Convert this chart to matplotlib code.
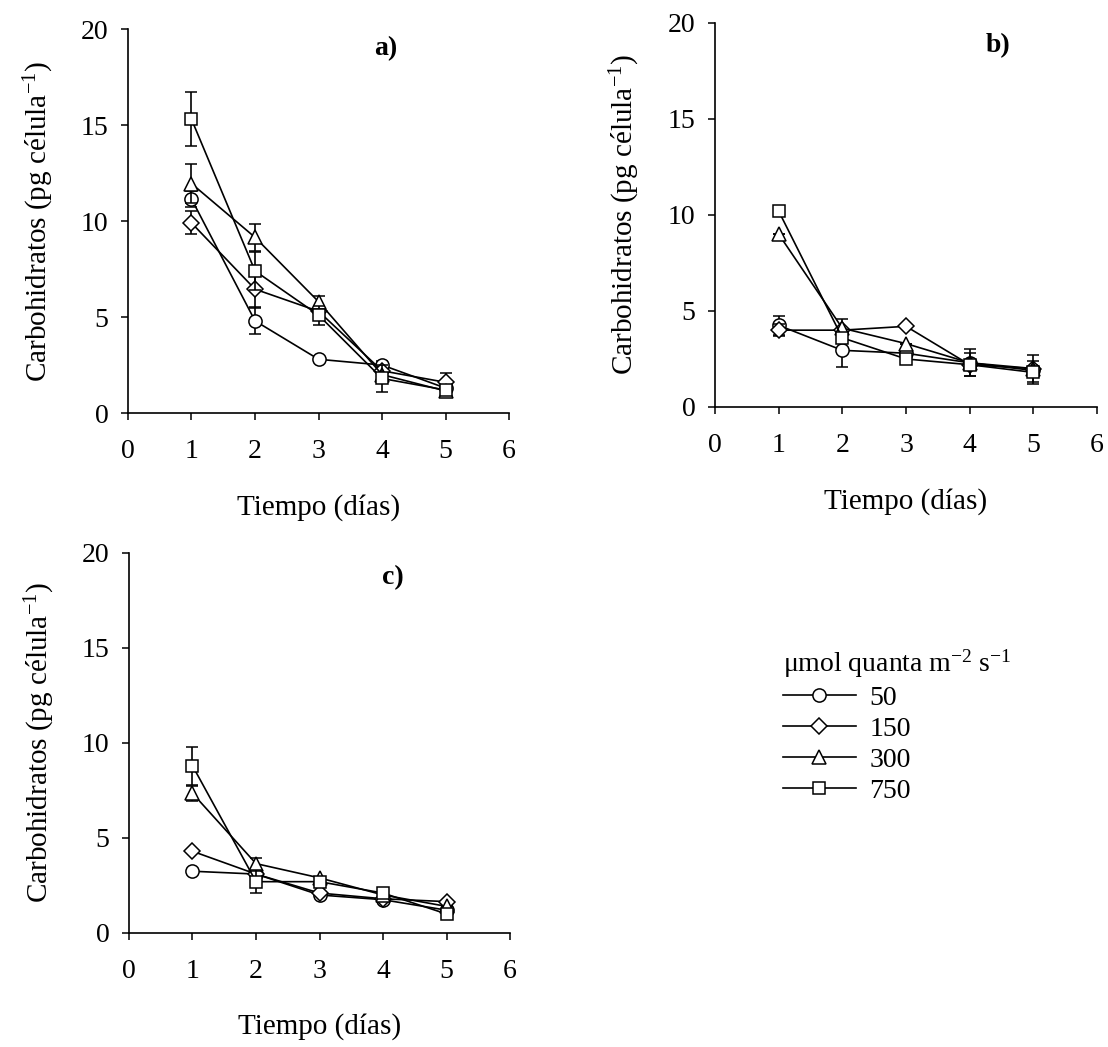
import matplotlib
matplotlib.use("Agg")
import matplotlib.pyplot as plt

plt.rcParams['font.family'] = ['Liberation Serif', 'DejaVu Serif']
plt.rcParams['mathtext.fontset'] = 'custom'
plt.rcParams['mathtext.rm'] = 'Liberation Serif'
plt.rcParams['mathtext.it'] = 'Liberation Serif:italic'
plt.rcParams['mathtext.bf'] = 'Liberation Serif:bold'

dias = [1, 2, 3, 4, 5]
niveles = ['50', '150', '300', '750']
marcas = ['o', 'D', '^', 's']
tamanos = [9.5, 8, 9.5, 9]

# panel a)
a_50 = [11.15, 4.8, 2.8, 2.5, 1.3]
a_150 = [9.9, 6.45, 5.3, 2.2, 1.6]
a_300 = [11.95, 9.15, 5.8, 2.0, 1.15]
a_750 = [15.3, 7.4, 5.1, 1.8, 1.2]
a_err_50 = [0.4, 0.7, 0, 0.2, 0]
a_err_150 = [0.6, 1.0, 0, 0, 0.5]
a_err_300 = [1.0, 0.7, 0.3, 0, 0.2]
a_err_750 = [1.4, 1.0, 0.5, 0.7, 0]

# panel b)
b_50 = [4.25, 2.95, 2.8, 2.3, 1.9]
b_150 = [4.0, 4.0, 4.2, 2.2, 2.0]
b_300 = [9.0, 4.1, 3.3, 2.3, 2.0]
b_750 = [10.2, 3.6, 2.5, 2.2, 1.8]
b_err_50 = [0.5, 0.85, 0, 0, 0]
b_err_150 = [0.3, 0, 0, 0, 0]
b_err_300 = [0, 0.5, 0, 0.7, 0.7]
b_err_750 = [0, 0, 0, 0.6, 0.6]

# panel c)
c_50 = [3.25, 3.1, 2.0, 1.75, 1.2]
c_150 = [4.3, 3.1, 2.1, 1.8, 1.65]
c_300 = [7.35, 3.65, 2.9, 2.0, 1.4]
c_750 = [8.8, 2.7, 2.7, 2.1, 1.0]
c_err_50 = [0, 0, 0, 0, 0]
c_err_150 = [0, 0, 0, 0, 0]
c_err_300 = [0.4, 0.3, 0, 0, 0]
c_err_750 = [1.0, 0.6, 0, 0.2, 0]

paneles = [
    ('a)', [a_50, a_150, a_300, a_750], [a_err_50, a_err_150, a_err_300, a_err_750],
     [0.1155, 0.6055, 0.344, 0.3668], (4.05, 19.0)),
    ('b)', [b_50, b_150, b_300, b_750], [b_err_50, b_err_150, b_err_300, b_err_750],
     [0.6453, 0.6113, 0.3448, 0.3668], (4.45, 18.8)),
    ('c)', [c_50, c_150, c_300, c_750], [c_err_50, c_err_150, c_err_300, c_err_750],
     [0.1164, 0.1089, 0.344, 0.363], (4.15, 18.7)),
]

fig = plt.figure(figsize=(11.08, 10.47), dpi=100)

handles = []
for etiqueta, series, errores, pos, txt in paneles:
    ax = fig.add_axes(pos)
    for i in range(4):
        eb = ax.errorbar(dias, series[i], yerr=errores[i], color='black', lw=1.2,
                         marker=marcas[i], ms=tamanos[i], mfc='white', mec='black',
                         mew=1.1, capsize=4, elinewidth=1.2, capthick=1.2,
                         clip_on=False, zorder=3 + i)
        if etiqueta == 'a)':
            handles.append(eb[0])
    ax.set_xlim(0, 6)
    ax.set_ylim(0, 20)
    ax.set_xticks([0, 1, 2, 3, 4, 5, 6])
    ax.set_yticks([0, 5, 10, 15, 20])
    ax.spines['top'].set_visible(False)
    ax.spines['right'].set_visible(False)
    ax.spines['left'].set_linewidth(1.2)
    ax.spines['bottom'].set_linewidth(1.2)
    ax.tick_params(axis='both', direction='out', length=5, width=1.1, labelsize=20)
    ax.tick_params(axis='x', pad=14)
    ax.tick_params(axis='y', pad=9)
    ax.set_xlabel('Tiempo (días)', fontsize=21)
    ax.xaxis.set_label_coords(0.5, -0.212)
    ax.set_ylabel('Carbohidratos (pg célula$^{-1}$)', fontsize=21)
    ax.yaxis.set_label_coords(-0.19, 0.5)
    ax.text(txt[0], txt[1], etiqueta, fontsize=20, fontweight='bold', ha='center', va='center')

fig.legend(handles, niveles, loc='upper left', bbox_to_anchor=(0.697, 0.392),
           frameon=False, fontsize=20, handlelength=2.6, handletextpad=0.5,
           labelspacing=0.2, title='μmol quanta m$^{-2}$ s$^{-1}$',
           title_fontsize=20, alignment='left', borderaxespad=0)

fig.savefig('out.png', dpi=100)
